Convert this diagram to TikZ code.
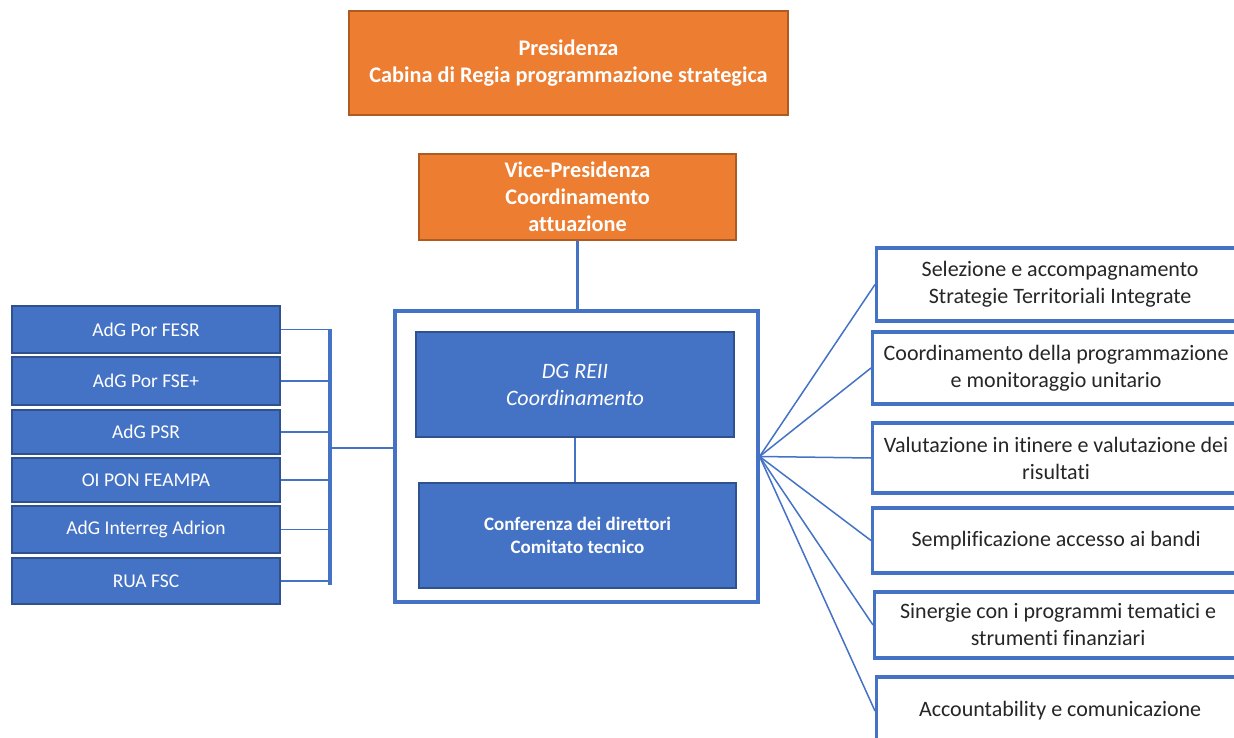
\documentclass[tikz,border=0pt]{standalone}
\usepackage{fontspec}
\setmainfont{Carlito}[Ligatures=CommonOff]
\definecolor{oran}{HTML}{ED7D31}
\definecolor{oranD}{HTML}{AE5A21}
\definecolor{blu}{HTML}{4472C4}
\definecolor{bluD}{HTML}{2F528F}
\definecolor{txt}{HTML}{262626}
\begin{document}
\begin{tikzpicture}[x=1pt,y=-1pt,
  obox/.style={draw=oranD,line width=1.6pt,fill=oran,text=white,font=\bfseries\fontsize{22.3}{27}\selectfont,align=center,inner sep=0pt},
  bbox/.style={draw=bluD,line width=1.5pt,fill=blu,text=white,align=center,inner sep=0pt},
  lbox/.style={bbox,minimum width=268pt,font=\fontsize{19.5}{22}\selectfont},
  rbox/.style={draw=blu,line width=3.2pt,fill=white,text=txt,align=center,inner sep=0pt,minimum width=367pt,font=\fontsize{22}{27}\selectfont,anchor=west},
  conn/.style={draw=blu,line width=2.4pt},
  fan/.style={draw=blu,line width=1.5pt}]
\clip (0,0) rectangle (1234,738);
\fill[white] (0,0) rectangle (1234,738);
% top
\node[obox,minimum width=439pt,minimum height=104pt] (pres) at (568.5,63) {Presidenza\\Cabina di Regia programmazione strategica};
\node[obox,minimum width=317pt,minimum height=86pt] (vice) at (577.5,197) {Vice-Presidenza\\Coordinamento\\attuazione};
% central frame
\node[draw=blu,line width=3.2pt,minimum width=363pt,minimum height=291pt,inner sep=0pt] (frame) at (576.5,456.5) {};
\node[bbox,minimum width=318pt,minimum height=105pt,font=\itshape\fontsize{22}{27}\selectfont] (dg) at (575,384.5) {DG REII\\Coordinamento};
\node[bbox,minimum width=317pt,minimum height=105pt,font=\bfseries\fontsize{19}{23}\selectfont] (conf) at (577.5,535.5) {Conferenza dei direttori\\Comitato tecnico};
\draw[conn] (vice.south) -- (vice.south |- frame.north);
\draw[conn] (dg.south) -- (dg.south |- conf.north);
% left boxes
\node[lbox,minimum height=47pt] (l1) at (146,329.5) {AdG Por FESR};
\node[lbox,minimum height=48pt] (l2) at (146,381) {AdG Por FSE+};
\node[lbox,minimum height=44pt] (l3) at (146,432) {AdG PSR};
\node[lbox,minimum height=44pt] (l4) at (146,480) {OI PON FEAMPA};
\node[lbox,minimum height=47pt] (l5) at (146,529.5) {AdG Interreg Adrion};
\node[lbox,minimum height=46pt] (l6) at (146,581) {RUA FSC};
\coordinate (bt) at (330,329);
\coordinate (bb) at (330,585);
\coordinate (bm) at (330,448);
\foreach \n in {l1,l2,l3,l4,l5,l6} \draw[conn,line width=1.8pt] (\n.east) -- (\n.east -| bt);
\draw[conn,line width=3.4pt] (bt) -- (bb);
\draw[conn,line width=1.8pt] (bm) -- (bm -| frame.west);
% right boxes
\node[rbox,minimum height=73pt] (r1) at (875,284.5) {Selezione e accompagnamento\\Strategie Territoriali Integrate};
\node[rbox,minimum height=72pt] (r2) at (871,368) {Coordinamento della programmazione\\e monitoraggio unitario};
\node[rbox,minimum height=70pt] (r3) at (871,458) {Valutazione in itinere e valutazione dei\\risultati};
\node[rbox,minimum height=65pt] (r4) at (871,540.5) {Semplificazione accesso ai bandi};
\node[rbox,minimum height=66pt] (r5) at (873,625) {Sinergie con i programmi tematici e\\strumenti finanziari};
\node[rbox,minimum height=68pt] (r6) at (875,711) {Accountability e comunicazione};
\foreach \n in {r1,r2,r3,r4,r5,r6} \draw[fan] (frame.east) -- (\n.west);
\end{tikzpicture}
\end{document}
